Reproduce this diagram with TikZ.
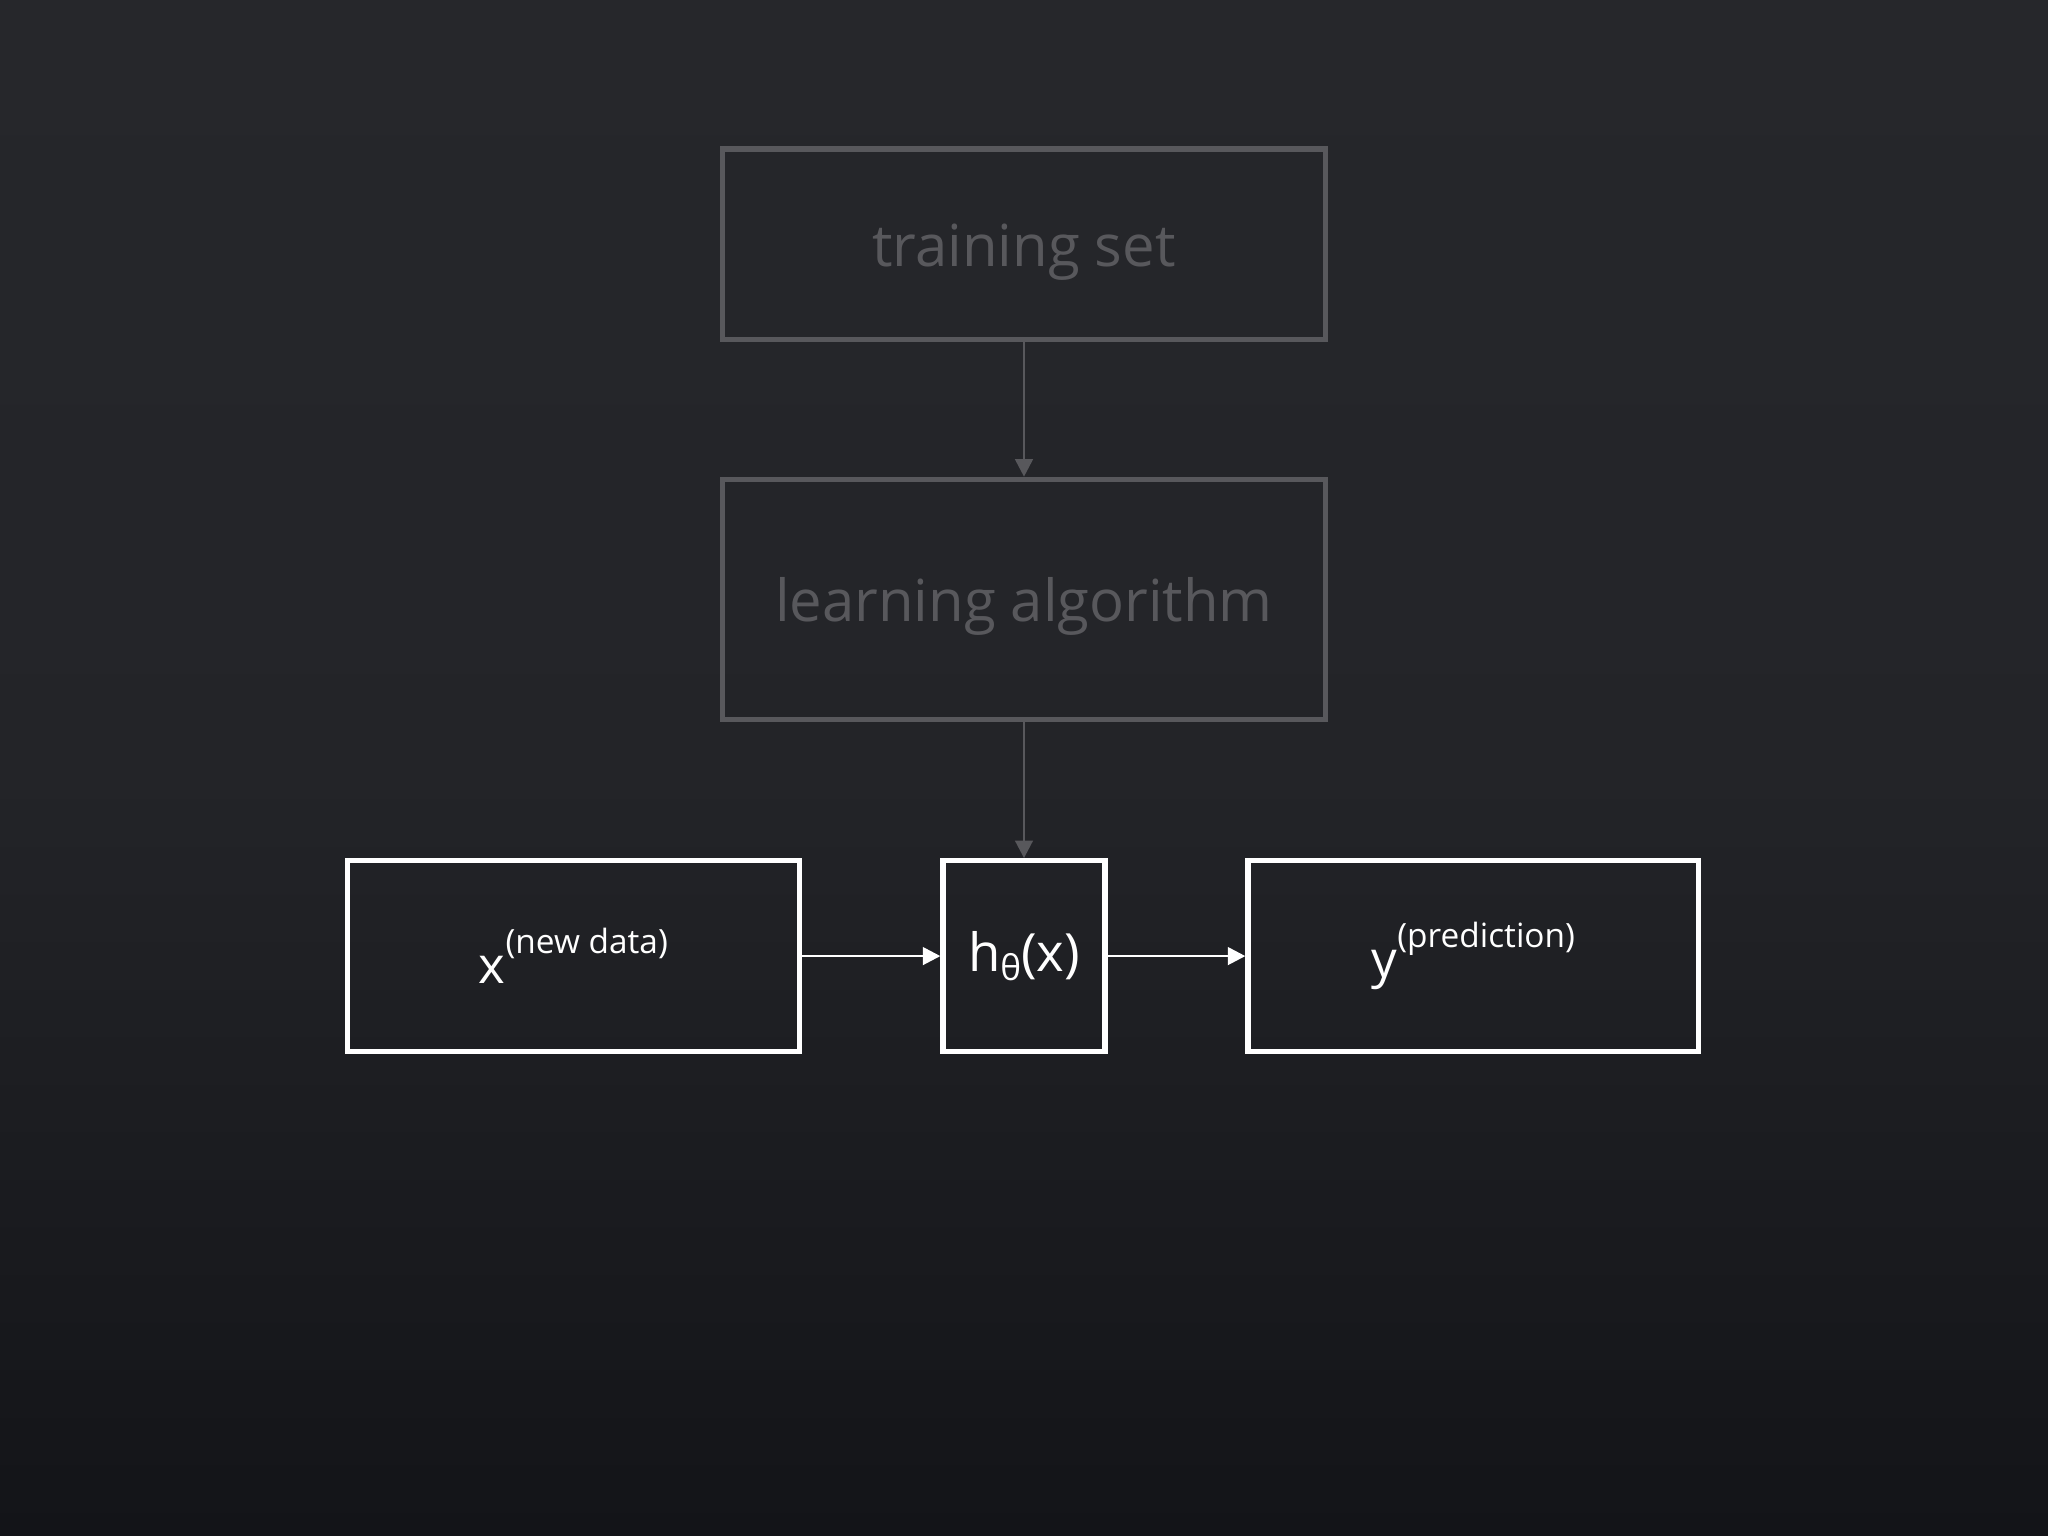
\documentclass[tikz,border=0pt]{standalone}
\usepackage{fontspec}
\setmainfont{Open Sans}
\usetikzlibrary{arrows.meta}
\definecolor{bgtop}{HTML}{26272B}
\definecolor{bgbot}{HTML}{131418}
\definecolor{dim}{HTML}{58585C}
\tikzset{
 dimbox/.style={draw=dim,line width=1.5pt,inner sep=0pt,text=dim},
 litbox/.style={draw=white,line width=1.5pt,inner sep=0pt,text=white},
 dimarr/.style={draw=dim,line width=0.8pt,-{Triangle[length=5pt,width=5pt]}},
 litarr/.style={draw=white,line width=0.8pt,-{Triangle[length=5pt,width=5pt]}},
}
\begin{document}
\begin{tikzpicture}[x=0.01306cm,y=-0.01306cm]
\useasboundingbox (0,0) rectangle (1568,1176);
\shade[top color=bgtop,bottom color=bgbot,middle color=bgtop!85!bgbot] (0,0) rectangle (1568,1176);
\node[dimbox,minimum width=462*0.01306cm,minimum height=146*0.01306cm] (ts) at (784,187) {};
\node[text=dim,font=\fontsize{16.5}{20}\selectfont] at (784,193) {training set};
\node[dimbox,minimum width=462*0.01306cm,minimum height=184*0.01306cm] (la) at (784,459) {};
\node[text=dim,font=\fontsize{16.5}{20}\selectfont] at (784,464) {learning algorithm};
\node[litbox,minimum width=346*0.01306cm,minimum height=146*0.01306cm,font=\fontsize{14.5}{17}\selectfont] (x) at (439,732) {x\raisebox{1.1ex}{\fontsize{9.5}{12}\selectfont(new data)}};
\node[litbox,minimum width=124*0.01306cm,minimum height=146*0.01306cm,font=\fontsize{15}{17}\selectfont] (h) at (784,732) {h\raisebox{-0.3ex}{\fontsize{10}{12}\selectfont θ}(x)};
\node[litbox,minimum width=345*0.01306cm,minimum height=146*0.01306cm,font=\fontsize{14.5}{17}\selectfont] (y) at (1128,732) {y\raisebox{1.1ex}{\fontsize{9.5}{12}\selectfont(prediction)}};
\draw[dimarr] (ts.south) ++(0,-2) -- (la.north);
\draw[dimarr] (la.south) ++(0,-2) -- (h.north);
\draw[litarr] (x.east) -- (h.west);
\draw[litarr] (h.east) -- (y.west);
\end{tikzpicture}
\end{document}
